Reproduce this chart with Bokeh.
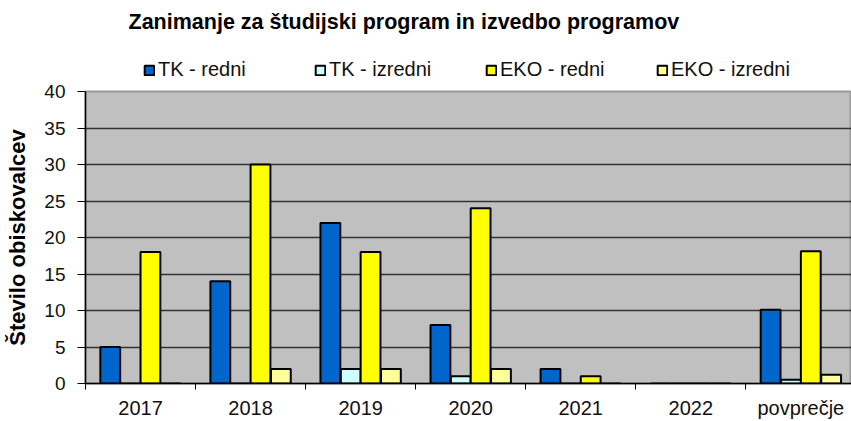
from bokeh.plotting import figure
from bokeh.layouts import column
from bokeh.models import (ColumnDataSource, Range1d, FixedTicker, Legend, LegendItem, Label)
from bokeh.transform import dodge
from bokeh.embed import file_html
from bokeh.resources import INLINE

categories = ["2017", "2018", "2019", "2020", "2021", "2022", "povprečje"]
series_names = ["TK - redni", "TK - izredni", "EKO - redni", "EKO - izredni"]
tk_redni = [5, 14, 22, 8, 2, 0, 10.1]
tk_izredni = [0, 0, 2, 1, 0, 0, 0.5]
eko_redni = [18, 30, 18, 24, 1, 0, 18.1]
eko_izredni = [0, 2, 2, 2, 0, 0, 1.2]
colors = ["#0066CC", "#CCFFFF", "#FFFF00", "#FFFF99"]
y_ticks = [0, 5, 10, 15, 20, 25, 30, 35, 40]
title_text = "Zanimanje  za študijski  program  in izvedbo programov"
y_label = "Število obiskovalcev"

FONT = "Liberation Sans"

idx = list(range(len(categories)))
source = ColumnDataSource(dict(x=idx, tk_redni=tk_redni, tk_izredni=tk_izredni,
                               eko_redni=eko_redni, eko_izredni=eko_izredni))
cols = ["tk_redni", "tk_izredni", "eko_redni", "eko_izredni"]
offsets = [-0.275, -0.09, 0.09, 0.275]

# ---------------- main chart ----------------
p = figure(width=851, height=341, output_backend="svg", toolbar_location=None,
           x_range=Range1d(-0.5, 6.46), y_range=Range1d(0, 40),
           min_border_left=85, min_border_right=0, min_border_top=11, min_border_bottom=36)

p.background_fill_color = "#C0C0C0"
p.border_fill_color = "white"
p.outline_line_color = "#999999"
p.outline_line_width = 2

for col, off, c in zip(cols, offsets, colors):
    p.vbar(x=dodge("x", off), top=col, width=0.18, source=source,
           fill_color=c, line_color="black", line_width=2)

xa = p.xaxis[0]
xa.ticker = FixedTicker(ticks=idx, minor_ticks=[i - 0.5 for i in range(len(categories) + 1)])
xa.major_label_overrides = {i: c for i, c in zip(idx, categories)}
xa.major_tick_out = 0
xa.major_tick_in = 0
xa.minor_tick_out = 6
xa.minor_tick_in = 0
xa.minor_tick_line_color = "black"
xa.minor_tick_line_width = 1
xa.axis_line_color = "black"
xa.axis_line_width = 1.5
xa.major_label_text_font = FONT
xa.major_label_text_font_size = "20px"
xa.major_label_text_color = "#111111"
xa.major_label_standoff = 7

ya = p.yaxis[0]
ya.ticker = FixedTicker(ticks=y_ticks)
ya.major_tick_out = 8
ya.major_tick_in = 0
ya.minor_tick_out = 0
ya.minor_tick_in = 0
ya.major_tick_line_color = "black"
ya.axis_line_color = "black"
ya.axis_line_width = 1.5
ya.major_label_text_font = FONT
ya.major_label_text_font_size = "19px"
ya.major_label_text_color = "#111111"
ya.major_label_standoff = 12
ya.axis_label = y_label
ya.axis_label_text_font = FONT
ya.axis_label_text_font_style = "bold"
ya.axis_label_text_font_size = "22px"
ya.axis_label_text_color = "black"
ya.axis_label_standoff = 11

p.xgrid.grid_line_color = None
p.ygrid.ticker = FixedTicker(ticks=y_ticks)
p.ygrid.grid_line_color = "#333333"
p.ygrid.grid_line_width = 1.5

# ---------------- header: title + legend ----------------
h = figure(width=851, height=80, output_backend="svg", toolbar_location=None,
           x_range=Range1d(-0.5, 6.46), y_range=Range1d(0, 40),
           x_axis_type=None, y_axis_type=None,
           min_border_left=0, min_border_right=0, min_border_top=0, min_border_bottom=0)
h.outline_line_color = None
h.background_fill_color = "white"
h.xgrid.visible = False
h.ygrid.visible = False

# legend keys: same series, hidden renderers (only their legend swatches are drawn)
keys = []
for col, off, c in zip(cols, offsets, colors):
    r = h.vbar(x=dodge("x", off), top=col, width=0.18, source=source,
               fill_color=c, line_color="black", line_width=2)
    r.visible = False
    keys.append(r)

legend = Legend(items=[LegendItem(label=n, renderers=[r]) for n, r in zip(series_names, keys)],
                orientation="horizontal", location=(58, -1), click_policy="none",
                inactive_fill_alpha=0,
                glyph_width=12, glyph_height=12, label_standoff=3, label_width=156,
                spacing=0, padding=0, margin=0,
                label_text_font=FONT, label_text_font_size="20px", label_text_color="#111111",
                border_line_color=None, background_fill_alpha=0)
h.add_layout(legend, "center")

h.add_layout(Label(x=43, y=59, x_units="screen", y_units="screen", text=title_text,
                   text_font=FONT, text_font_size="21.5px", text_font_style="bold",
                   text_color="black", text_baseline="middle", text_align="left"))

layout = column(h, p, spacing=0)
open("out.html", "w").write(file_html(layout, INLINE))
